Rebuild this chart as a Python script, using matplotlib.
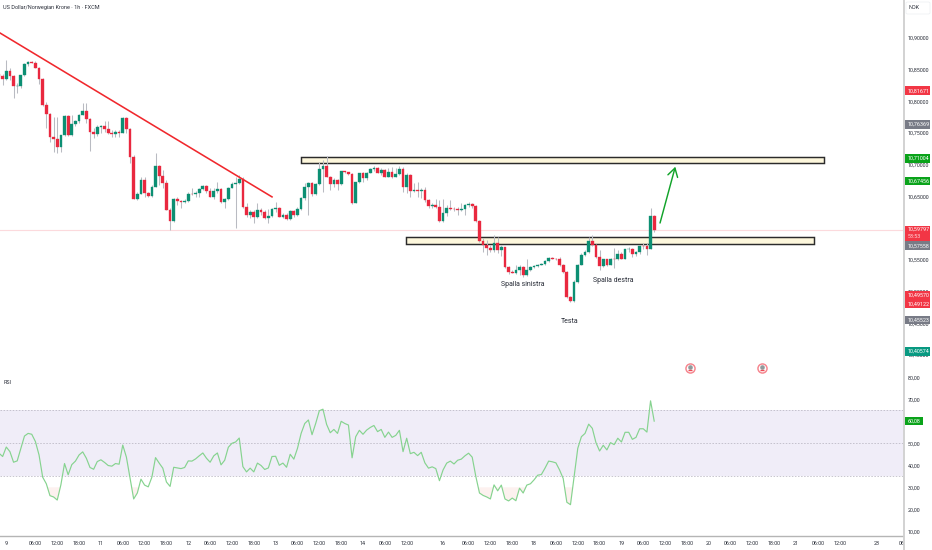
#!/usr/bin/env python3

import matplotlib
matplotlib.use('Agg')
import matplotlib.pyplot as plt
import numpy as np
from matplotlib.lines import Line2D
from matplotlib.patches import FancyBboxPatch, Rectangle

plt.rcParams['font.family'] = ['Roboto', 'DejaVu Sans']

first_open = 10.8431
closes = [
    10.8400, 10.8352, 10.8484, 10.8400, 10.8242, 10.8247, 10.8410, 10.8584, 10.8621, 10.8610,
    10.8531, 10.8352, 10.7942, 10.7800, 10.7442, 10.7400, 10.7279, 10.7469, 10.7763, 10.7469,
    10.7642, 10.7695, 10.7790, 10.7842, 10.7716, 10.7516, 10.7479, 10.7590, 10.7611, 10.7558,
    10.7500, 10.7490, 10.7521, 10.7506, 10.7737, 10.7558, 10.7122, 10.6464, 10.6538, 10.6759,
    10.6548, 10.6506, 10.6653, 10.6985, 10.6827, 10.6711, 10.6285, 10.6112, 10.6459, 10.6427,
    10.6417, 10.6427, 10.6543, 10.6532, 10.6559, 10.6611, 10.6659, 10.6580, 10.6490, 10.6580,
    10.6611, 10.6411, 10.6459, 10.6638, 10.6695, 10.6706, 10.6769, 10.6332, 10.6206, 10.6259,
    10.6170, 10.6285, 10.6248, 10.6159, 10.6191, 10.6306, 10.6317, 10.6180, 10.6206, 10.6138,
    10.6275, 10.6206, 10.6296, 10.6469, 10.6643, 10.6706,
    10.6533, 10.6696, 10.6932, 10.6980, 10.6811, 10.6690, 10.6759, 10.6690, 10.6896, 10.6880,
    10.6853, 10.6391, 10.6722, 10.6864, 10.6785, 10.6875, 10.6927, 10.6953, 10.6875, 10.6917,
    10.6811, 10.6880, 10.6811, 10.6853, 10.6927, 10.6643, 10.6838, 10.6590, 10.6606, 10.6590,
    10.6606, 10.6443, 10.6354, 10.6364, 10.6333, 10.6112, 10.6243, 10.6312, 10.6306, 10.6296,
    10.6291, 10.6306, 10.6359, 10.6380, 10.6349, 10.6112, 10.5796, 10.5728, 10.5686, 10.5654,
    10.5770, 10.5654, 10.5707, 10.5381, 10.5312, 10.5297, 10.5339, 10.5391, 10.5270, 10.5339,
    10.5381, 10.5402, 10.5418, 10.5433, 10.5481, 10.5528, 10.5517, 10.5512, 10.5418, 10.5312,
    10.4918, 10.4849, 10.5155, 10.5423, 10.5575, 10.5628, 10.5796, 10.5733, 10.5539, 10.5402,
    10.5507, 10.5417, 10.5522, 10.5512, 10.5591, 10.5522, 10.5665, 10.5680, 10.5586, 10.5628,
    10.5717, 10.5715, 10.5680, 10.6196, 10.59797,
]
highs = [
    10.8521, 10.8431, 10.8652, 10.8521, 10.8415, 10.8284, 10.8415, 10.8600, 10.8636, 10.8636,
    10.8636, 10.8547, 10.8363, 10.7995, 10.7811, 10.7758, 10.7758, 10.7469, 10.7784, 10.7784,
    10.7784, 10.7705, 10.7800, 10.7968, 10.7968, 10.7732, 10.7574, 10.7627, 10.7627, 10.7695,
    10.7695, 10.7548, 10.7548, 10.7548, 10.7758, 10.7758, 10.7574, 10.7153, 10.6575, 10.6811,
    10.6811, 10.6575, 10.6680, 10.7180, 10.6995, 10.6916, 10.6759, 10.6312, 10.6469, 10.6496,
    10.6443, 10.6454, 10.6575, 10.6627, 10.6590, 10.6627, 10.6680, 10.6680, 10.6627, 10.6627,
    10.6732, 10.6627, 10.6469, 10.6653, 10.6732, 10.6811, 10.6837, 10.6811, 10.6390, 10.6285,
    10.6285, 10.6390, 10.6312, 10.6285, 10.6296, 10.6312, 10.6417, 10.6338, 10.6233, 10.6233,
    10.6285, 10.6285, 10.6338, 10.6496, 10.6717, 10.6732,
    10.6733, 10.6717, 10.7048, 10.7074, 10.7143, 10.6822, 10.6785, 10.6769, 10.6906, 10.6906,
    10.6890, 10.6864, 10.6733, 10.6875, 10.6885, 10.6890, 10.6943, 10.6980, 10.6969, 10.6943,
    10.6927, 10.6943, 10.6969, 10.6943, 10.6980, 10.6969, 10.6864, 10.6848, 10.6706, 10.6733,
    10.6627, 10.6654, 10.6454, 10.6391, 10.6454, 10.6443, 10.6454, 10.6364, 10.6443, 10.6338,
    10.6338, 10.6391, 10.6380, 10.6406, 10.6401, 10.6359, 10.6122, 10.5838, 10.5812, 10.5733,
    10.5891, 10.5865, 10.5733, 10.5707, 10.5402, 10.5339, 10.5418, 10.5418, 10.5402, 10.5507,
    10.5402, 10.5418, 10.5428, 10.5444, 10.5496, 10.5549, 10.5539, 10.5523, 10.5549, 10.5433,
    10.5328, 10.4928, 10.5181, 10.5433, 10.5602, 10.5654, 10.5865, 10.5891, 10.5744, 10.5654,
    10.5507, 10.5522, 10.5538, 10.5691, 10.5654, 10.5628, 10.5675, 10.5707, 10.5691, 10.5638,
    10.5733, 10.5759, 10.5759, 10.6312, 10.6206,
]
lows = [
    10.8337, 10.8258, 10.8337, 10.8337, 10.8058, 10.8137, 10.8205, 10.8400, 10.8563, 10.8600,
    10.8521, 10.8273, 10.7926, 10.7574, 10.7363, 10.7206, 10.7180, 10.7206, 10.7453, 10.7453,
    10.7453, 10.7611, 10.7653, 10.7784, 10.7663, 10.7216, 10.7416, 10.7453, 10.7495, 10.7521,
    10.7479, 10.7432, 10.7442, 10.7432, 10.7495, 10.7495, 10.7022, 10.6464, 10.6443, 10.6538,
    10.6496, 10.6496, 10.6496, 10.6653, 10.6680, 10.6627, 10.6285, 10.5970, 10.6101, 10.6364,
    10.6312, 10.6390, 10.6417, 10.6522, 10.6485, 10.6496, 10.6601, 10.6559, 10.6485, 10.6454,
    10.6548, 10.6390, 10.6312, 10.6443, 10.6627, 10.5996, 10.6695, 10.6312, 10.6180, 10.6154,
    10.6085, 10.6154, 10.6206, 10.6138, 10.6085, 10.6170, 10.6259, 10.6180, 10.6154, 10.6127,
    10.6127, 10.6180, 10.6191, 10.6285, 10.6443, 10.6206,
    10.6506, 10.6522, 10.6680, 10.6575, 10.6801, 10.6601, 10.6654, 10.6601, 10.6680, 10.6864,
    10.6838, 10.6380, 10.6391, 10.6717, 10.6733, 10.6759, 10.6864, 10.6906, 10.6864, 10.6838,
    10.6801, 10.6801, 10.6785, 10.6801, 10.6838, 10.6575, 10.6548, 10.6485, 10.6575, 10.6496,
    10.6470, 10.6417, 10.6312, 10.6312, 10.6312, 10.6101, 10.6101, 10.6191, 10.6285, 10.6275,
    10.6207, 10.6275, 10.6207, 10.6338, 10.6312, 10.6101, 10.5786, 10.5628, 10.5575, 10.5628,
    10.5628, 10.5602, 10.5560, 10.5365, 10.5276, 10.5286, 10.5276, 10.5260, 10.5233, 10.5244,
    10.5328, 10.5365, 10.5381, 10.5418, 10.5418, 10.5470, 10.5507, 10.5496, 10.5402, 10.5297,
    10.4907, 10.4839, 10.4839, 10.5139, 10.5418, 10.5560, 10.5617, 10.5717, 10.5523, 10.5338,
    10.5391, 10.5402, 10.5417, 10.5365, 10.5496, 10.5522, 10.5507, 10.5628, 10.5549, 10.5559,
    10.5591, 10.5680, 10.5575, 10.5670, 10.5943,
]
rsi_values = [
    45.5, 44.0, 48.3, 46.2, 41.4, 42.0, 47.7, 53.3, 54.5, 54.1, 50.8, 44.7, 34.6, 31.6, 26.2, 25.6,
    24.2, 31.1, 40.8, 35.7, 40.3, 41.9, 44.7, 46.1, 43.2, 39.0, 38.2, 41.7, 42.5, 41.3, 39.9, 39.6,
    40.8, 40.5, 49.2, 43.7, 34.2, 24.7, 27.4, 33.7, 31.0, 30.2, 34.6, 43.5, 41.0, 38.7, 32.4, 30.4,
    39.1, 38.8, 38.5, 39.0, 42.0, 41.9, 42.9, 44.3, 45.6, 43.2, 41.4, 44.3, 45.6, 40.2, 42.3, 48.2,
    50.0, 50.6, 52.4, 39.4, 37.0, 38.7, 37.0, 41.0, 39.9, 38.1, 38.8, 44.0, 44.1, 40.0, 41.0, 39.1,
    45.0, 42.8, 47.7, 54.5, 59.0, 60.6, 53.9, 59.0, 64.8, 65.5, 58.6, 54.8,
    56.3, 54.5, 60.0, 59.0, 58.3, 43.4, 53.0, 55.9, 54.1, 56.0, 57.2, 58.1, 55.3, 56.3, 52.7, 55.1,
    52.7, 53.6, 55.9, 46.2, 52.3, 45.3, 45.9, 44.4, 45.9, 41.1, 38.7, 39.3, 38.5, 33.0, 37.9, 41.0,
    41.9, 40.6, 42.3, 42.8, 44.3, 45.5, 43.7, 34.9, 27.4, 26.3, 25.6, 24.7, 31.1, 28.4, 31.0, 24.7,
    23.8, 25.1, 23.9, 29.6, 27.4, 31.0, 31.6, 33.4, 35.5, 35.8, 38.7, 41.9, 41.6, 41.1, 37.9, 34.0,
    23.2, 22.1, 34.9, 47.7, 53.0, 54.5, 58.7, 56.8, 50.3, 46.5, 49.1, 47.0, 50.3, 49.4, 52.3, 50.6,
    55.0, 55.0, 51.8, 52.7, 56.6, 56.6, 55.1, 69.3, 60.08,
]

tick_bars = [2, 10, 16, 22, 28, 34, 40, 46, 52, 58, 64, 70, 76, 82, 88, 94, 100, 106, 112, 122, 129,
             135, 141, 147, 153, 159, 165, 171, 177, 183, 189, 195, 201, 207, 213, 219, 225, 231, 241, 248]
tick_labels = ['9', '06:00', '12:00', '18:00', '11', '06:00', '12:00', '18:00', '12', '06:00', '12:00',
               '18:00', '13', '06:00', '12:00', '18:00', '14', '06:00', '12:00', '16', '06:00', '12:00',
               '18:00', '18', '06:00', '12:00', '18:00', '19', '06:00', '12:00', '18:00', '20', '06:00',
               '12:00', '18:00', '21', '06:00', '12:00', '23', '06']

price_ticks = [10.40, 10.45, 10.50, 10.55, 10.60, 10.65, 10.70, 10.75, 10.80, 10.85, 10.90]
rsi_ticks = [10, 20, 30, 40, 50, 60, 70, 80]

# price tags on the right scale: value, where the tag sits (pushed apart like on the chart), colour
price_tags = [(10.81671, 10.81671, '#f23645'), (10.76369, 10.76369, '#787b86'),
              (10.71004, 10.71004, '#0aa31a'), (10.67456, 10.67456, '#0aa31a'),
              (10.57558, 10.5724, '#787b86'), (10.49570, 10.4943, '#f23645'),
              (10.49122, 10.4808, '#f23645'), (10.45523, 10.45523, '#787b86'),
              (10.40574, 10.40574, '#089981')]
last_price = 10.59797
countdown = '53:53'
rsi_last = 60.08

trend_bars = [0.27, 75.0]
trend_prices = [10.9079, 10.6494]
zone_top = (83.0, 226.6, 10.7024, 10.7128)
zone_bottom = (111.8, 223.9, 10.5745, 10.5866)
arrow_bars = [181.6, 185.8]
arrow_prices = [10.6082, 10.6970]
event_bars = [189.75, 209.6]
event_price = 10.3796

UP = '#0c8f73'
DOWN = '#e9283f'
WICK = '#b9bbc2'
TEXT = '#2a2e39'


def comma(value):
    return f'{value:.5f}'.replace('.', ',')


W, H = 932, 550
fig = plt.figure(figsize=(W / 100, H / 100), dpi=100)
ax = fig.add_axes([0, 1 - 374 / H, 903 / W, 374 / H])
ax_rsi = fig.add_axes([0, 1 - 536 / H, 903 / W, 162 / H], sharex=ax)

x = np.arange(len(closes))
closes = np.array(closes)
opens = np.r_[first_open, closes[:-1]]
up = closes >= opens
colors = np.where(up, UP, DOWN)

# candles
ax.vlines(x, lows, highs, color=WICK, lw=0.75, zorder=3)
ax.bar(x, np.abs(closes - opens), bottom=np.minimum(opens, closes), width=0.74,
       color=colors, edgecolor=colors, linewidth=0.25, zorder=4)
ax.axhline(last_price, color='#f23645', alpha=0.18, lw=0.8, zorder=1)

# drawings
ax.plot(trend_bars, trend_prices, color='#f0282d', lw=1.15, zorder=5)
for x0, x1, y0, y1 in (zone_top, zone_bottom):
    ax.add_patch(Rectangle((x0, y0), x1 - x0, y1 - y0, facecolor='#fdf7dc', edgecolor='#2b2b2b',
                           lw=1.05, zorder=2))
ax.annotate('', xy=(arrow_bars[1], arrow_prices[1]), xytext=(arrow_bars[0], arrow_prices[0]),
            arrowprops=dict(arrowstyle='->,head_length=0.6,head_width=0.36', color='#12a32a', lw=1.05,
                            shrinkA=0, shrinkB=0), zorder=5)
ax.text(143.9, 10.5120, 'Spalla sinistra', ha='center', va='center', fontsize=5.0, color=TEXT)
ax.text(168.7, 10.5183, 'Spalla destra', ha='center', va='center', fontsize=5.0, color=TEXT)
ax.text(156.7, 10.4525, 'Testa', ha='center', va='center', fontsize=5.0, color=TEXT)

# calendar icons
ax.scatter(event_bars, [event_price] * 2, s=58, color='#f6858e', linewidth=0, zorder=5, clip_on=False)
ax.scatter(event_bars, [event_price] * 2, s=30, color='white', linewidth=0, zorder=6, clip_on=False)
ax.scatter(event_bars, [event_price + 0.0012] * 2, s=11, color='#8f9a9c', linewidth=0, zorder=7, clip_on=False)
ax.scatter(event_bars, [event_price - 0.0035] * 2, s=6, marker='_', color='#ee4a55', linewidth=1, zorder=7)

ax.set_xlim(0.275, 248.35)
ax.set_ylim(10.3701, 10.9599)
ax.yaxis.tick_right()
ax.set_yticks(price_ticks)
ax.set_yticklabels([comma(v) for v in price_ticks])
ax.tick_params(axis='y', length=0, pad=3.5, labelsize=3.9, labelcolor=TEXT)
ax.tick_params(axis='x', which='both', length=0, labelbottom=False)

# RSI
rsi_values = np.array(rsi_values)
ax_rsi.axhspan(35, 65, color='#f0edf8', lw=0, zorder=1)
for level in (65, 50, 35):
    ax_rsi.axhline(level, color='#b9b6c2', lw=0.55, ls=(0, (2, 2)), zorder=2)
ax_rsi.fill_between(x, rsi_values, 30, where=rsi_values < 30, interpolate=True, color='#fbdcd8', alpha=0.4,
                    lw=0, zorder=2)
ax_rsi.plot(x, rsi_values, color='#86d38f', lw=0.85, zorder=3)
ax_rsi.set_ylim(7.86, 81.5)
ax_rsi.yaxis.tick_right()
ax_rsi.set_yticks(rsi_ticks)
ax_rsi.set_yticklabels([f'{v:.2f}'.replace('.', ',') for v in rsi_ticks])
ax_rsi.tick_params(axis='y', length=0, pad=3.5, labelsize=3.9, labelcolor=TEXT)
ax_rsi.set_xticks(tick_bars)
ax_rsi.set_xticklabels(tick_labels)
ax_rsi.tick_params(axis='x', length=0, pad=3.6, labelsize=3.9, labelcolor=TEXT)
ax_rsi.text(0.0035, 0.95, 'RSI', transform=ax_rsi.transAxes, fontsize=3.9, color=TEXT, va='center')

for a in (ax, ax_rsi):
    for side in ('left', 'right', 'top', 'bottom'):
        a.spines[side].set_visible(False)
ax.spines['bottom'].set_visible(True)
ax.spines['bottom'].set_color('#eef0f4')
ax.spines['bottom'].set_linewidth(0.7)
ax_rsi.spines['bottom'].set_visible(True)
ax_rsi.spines['bottom'].set_color('#b5b5b5')
ax_rsi.spines['bottom'].set_linewidth(1.0)

# right scale border
fig.add_artist(Line2D([903.8 / W] * 2, [0, 1], color='#cfcfcf', lw=1.3))

# tags on the price scale
tag_x = 904.5 / 903
tag_w = 25 / 903
tag_h = 8.6 * (10.9599 - 10.3701) / 374
trans = ax.get_yaxis_transform()
for value, place, color in price_tags:
    ax.add_patch(Rectangle((tag_x, place - tag_h / 2), tag_w, tag_h, transform=trans, facecolor=color,
                           lw=0, clip_on=False, zorder=8))
    ax.text(tag_x + 3.2 / 903, place, comma(value), transform=trans, color='white', fontsize=3.9, va='center',
            ha='left', clip_on=False, zorder=9)
ax.add_patch(Rectangle((tag_x, last_price - 0.0055 - tag_h * 0.9), tag_w, tag_h * 1.7, transform=trans,
                       facecolor='#f23645', lw=0, clip_on=False, zorder=8))
ax.text(tag_x + 3.2 / 903, last_price, comma(last_price), transform=trans, color='white', fontsize=3.9,
        va='center', clip_on=False, zorder=9)
ax.text(tag_x + 3.2 / 903, last_price - 0.0113, countdown, transform=trans, color='#ffd8dc', fontsize=3.9,
        va='center', clip_on=False, zorder=9)

# RSI value tag
rsi_h = 8.2 * 73.64 / 162
trans_rsi = ax_rsi.get_yaxis_transform()
ax_rsi.add_patch(Rectangle((tag_x, rsi_last - rsi_h / 2), 18 / 903, rsi_h, transform=trans_rsi,
                           facecolor='#0aa31a', lw=0, clip_on=False, zorder=8))
ax_rsi.text(tag_x + 3 / 903, rsi_last, f'{rsi_last:.2f}'.replace('.', ','), transform=trans_rsi, color='white',
            fontsize=3.9, va='center', clip_on=False, zorder=9)

# header
fig.text(3 / W, 1 - 8 / H, 'US Dollar/Norwegian Krone · 1h · FXCM', fontsize=4.0, color=TEXT, va='center')
fig.add_artist(FancyBboxPatch((906 / W, 1 - 14 / H), 24 / W, 12 / H, boxstyle='round,pad=0,rounding_size=0.002',
                              transform=fig.transFigure, facecolor='white', edgecolor='#eceef2', lw=0.5))
fig.text(914 / W, 1 - 7.5 / H, 'NOK', fontsize=3.9, color=TEXT, va='center', ha='center')

fig.savefig('out.png', dpi=100)
